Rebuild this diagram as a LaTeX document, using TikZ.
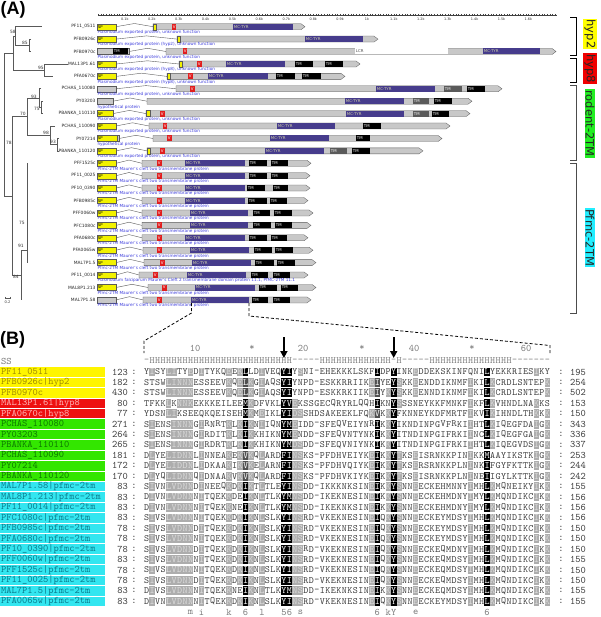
\documentclass[tikz,border=0pt]{standalone}
\usepackage{fontspec}
\setsansfont{DejaVu Sans}
\newfontfamily\panelfont{Liberation Sans}
\usetikzlibrary{arrows.meta,positioning}
\definecolor{bargrey}{HTML}{C8C8C8}
\definecolor{barline}{HTML}{5A5A5A}
\definecolor{spyellow}{HTML}{F2F200}
\definecolor{vred}{HTML}{E01E1E}
\definecolor{tyrpurple}{HTML}{463C8C}
\definecolor{tyrtext}{HTML}{D2D2A8}
\definecolor{tmdark}{HTML}{5A5A5A}
\definecolor{descblue}{HTML}{3C3CDC}
\definecolor{hypyellow}{HTML}{FFFF00}
\definecolor{hypred}{HTML}{F00000}
\definecolor{rodgreen}{HTML}{22EE22}
\definecolor{pfmccyan}{HTML}{22EEFF}
\definecolor{nyellow}{HTML}{FFF500}
\definecolor{nyellowtext}{HTML}{A08C00}
\definecolor{nred}{HTML}{EE1010}
\definecolor{nredtext}{HTML}{FFB8B8}
\definecolor{ngreen}{HTML}{33E600}
\definecolor{ngreentext}{HTML}{0C7800}
\definecolor{ncyan}{HTML}{33E6F0}
\definecolor{ncyantext}{HTML}{0A7A8C}
\definecolor{seqtext}{HTML}{3A3A3A}
\definecolor{resgrey}{HTML}{ADADAD}
\definecolor{resgreytext}{HTML}{DCDCDC}
\definecolor{resdark}{HTML}{505050}
\definecolor{sstext}{HTML}{7A7A7A}

\newcounter{domc}
% one protein of panel A: id, y, end of first piece, start of second piece, end, name, description
\newcommand\protrow[7]{%
  \filldraw[barbox] (97,#2-3) rectangle (#3,#2+3);
  \draw[barjoin] (#3,#2) -- ({(#3+#4)/2},#2-3.2) -- (#4,#2);
  \filldraw[barbox] (#4,#2-3) -- (#5,#2-3) -- (#5+4,#2) -- (#5,#2+3) -- (#4,#2+3) -- cycle;
  \node[leaf] (lf#1) at (96,#2) {#6};
  \node[desc] (ds#1) at (97,#2+5.7) {#7};}
% one domain: style, y, from, to, label
\newcommand\dom[5]{%
  \stepcounter{domc}%
  \filldraw[#1] (#3,#2-3) rectangle (#4,#2+3);
  \node[domtext, #1 label] (dom\arabic{domc}) at (#3+0.4,#2) {#5};}
% one row of panel B: id, y, box style, name, first number, residues, shading, last number
\newcommand\alnrow[8]{%
  \node[namebox, #3] (nm#1) at (0,#2) {#4};
  \node[numl] (st#1) at (128,#2) {#5};
  \node[colon] (cl#1) at (134,#2) {:};
  \def\alny{#2}\def\alncol{0}\def\alnid{#1}%
  \alnloop#6\relax#7\relax
  \node[colon] (cr#1) at (561,#2) {:};
  \node[numr] (en#1) at (570,#2) {#8};}
\def\alnloop#1#2\relax#3#4\relax{%
  \pgfmathtruncatemacro\alncol{\alncol+1}%
  \pgfmathsetmacro\alnx{146.7+(\alncol-1)*5.49}%
  \node[res, res#3] (c\alnid-\alncol) at (\alnx,\alny) {#1};%
  \ifx\relax#2\relax\else\alnloop#2\relax#4\relax\fi}

\begin{document}
\begin{tikzpicture}[x=1pt,y=-1pt,
  barbox/.style={fill=bargrey, draw=barline, line width=0.3pt},
  barjoin/.style={draw=barline, line width=0.4pt},
  leaf/.style={anchor=east, font=\fontsize{4.4}{4.4}\sffamily, text=black!85, inner sep=0.3pt},
  desc/.style={anchor=west, font=\fontsize{4.2}{4.2}\sffamily, text=descblue, inner sep=0.3pt},
  domtext/.style={anchor=west, font=\fontsize{3.9}{3.9}\sffamily, inner sep=0.3pt},
  spdom/.style={fill=spyellow, draw=barline, line width=0.3pt},
  spdom label/.style={text=black},
  vdom/.style={fill=vred, draw=none},
  vdom label/.style={text=white},
  tyrdom/.style={fill=tyrpurple, draw=none},
  tyrdom label/.style={text=tyrtext},
  tmdom/.style={fill=black, draw=none},
  tmdom label/.style={text=white},
  tmgdom/.style={fill=tmdark, draw=none},
  tmgdom label/.style={text=white},
  lcrdom/.style={fill=white, draw=none},
  lcrdom label/.style={text=black!70},
  rulerline/.style={draw=black!75, line width=0.4pt},
  rulerlab/.style={font=\fontsize{3.4}{3.4}\sffamily, text=black!80, inner sep=0pt},
  branch/.style={draw=black!65, line width=0.6pt},
  support/.style={font=\fontsize{4.4}{4.4}\sffamily, text=black!80, inner sep=0.3pt},
  group/.style={rotate=-90, font=\fontsize{11.5}{11.5}\sffamily, inner sep=1pt, text=black!85},
  bracket/.style={line width=0.8pt},
  panel/.style={font=\fontsize{18}{18}\panelfont\bfseries, inner sep=0pt},
  namebox/.style={anchor=west, minimum height=9.4pt, text width=103pt, inner xsep=1pt, inner ysep=0pt, font=\fontsize{10}{10}\ttfamily, align=left},
  yel/.style={fill=nyellow, text=nyellowtext},
  redb/.style={fill=nred, text=nredtext},
  grn/.style={fill=ngreen, text=ngreentext},
  cyn/.style={fill=ncyan, text=ncyantext},
  numl/.style={anchor=east, font=\fontsize{10}{10}\ttfamily, text=seqtext, inner sep=0pt},
  numr/.style={anchor=west, font=\fontsize{10}{10}\ttfamily, text=seqtext, inner sep=0pt},
  colon/.style={font=\fontsize{10}{10}\ttfamily, text=seqtext, inner sep=0pt},
  res/.style={minimum width=5.49pt, minimum height=8.8pt, inner sep=0pt, font=\fontsize{9.6}{9.6}\ttfamily},
  resw/.style={text=seqtext},
  resg/.style={fill=resgrey, text=resgreytext},
  resk/.style={fill=black, text=white},
  resd/.style={fill=resdark, text=white},
  ress/.style={text=sstext},
  marker/.style={font=\fontsize{10}{10}\ttfamily, text=sstext, inner sep=0pt},
  zoomline/.style={draw=black, line width=0.8pt, dash pattern=on 3pt off 2pt},
  pick/.style={draw=black, line width=2pt, -{Triangle[width=7pt,length=7pt]}}
]
\useasboundingbox (0,0) rectangle (600,617);

% ---------- panel A ----------
\node[panel, anchor=north west] (pA) at (0.5,1.5) {(A)};

% ruler
\draw[rulerline] (98,15) -- (557,15);
\foreach \k in {0,...,170}
  \draw[rulerline, line width=0.25pt] ({98+\k*2.69},13.9) -- ({98+\k*2.69},16.1);
\foreach \k/\t in {1/0.1k,2/0.2k,3/0.3k,4/0.4k,5/0.5k,6/0.6k,7/0.7k,8/0.8k,
                   9/0.9k,10/1k,11/1.1k,12/1.2k,13/1.3k,14/1.4k,15/1.5k,16/1.6k}
  \node[rulerlab] (rl\k) at ({98+\k*26.9},19.6) {\t};

% proteins
\protrow{1}{26.7}{116}{153}{301}{PF11\_0511}{Plasmodium exported protein, unknown function}
\dom{spdom}{26.7}{97}{116}{SP} \dom{spdom}{26.7}{153}{156}{}
\dom{vdom}{26.7}{172}{176}{V} \dom{tyrdom}{26.7}{233}{293}{MC-TYR}

\protrow{2}{39.1}{116}{177}{374}{PFB0926c}{Plasmodium exported protein (hyp2), unknown function}
\dom{spdom}{39.1}{97}{116}{SP} \dom{spdom}{39.1}{177}{180}{}
\dom{tyrdom}{39.1}{305}{363}{MC-TYR}

\protrow{3}{51.5}{129}{166}{552}{PFB0970c}{Plasmodium exported protein, unknown function}
\dom{tmdom}{51.5}{113}{128}{TM} \dom{vdom}{51.5}{183}{187}{V}
\dom{lcrdom}{51.5}{355}{448}{LCR} \dom{tyrdom}{51.5}{483}{540}{MC-TYR}

\protrow{4}{64}{116}{179}{356}{MAL13P1.61}{Plasmodium exported protein (hyp8), unknown function}
\dom{spdom}{64}{97}{116}{SP} \dom{spdom}{64}{179}{182}{}
\dom{vdom}{64}{197}{202}{V} \dom{tyrdom}{64}{226}{285}{MC-TYR}
\dom{tmdom}{64}{295}{313}{TM} \dom{tmdom}{64}{325}{343}{TM}

\protrow{5}{76.4}{116}{167}{341}{PFA0670c}{Plasmodium exported protein (hyp8), unknown function}
\dom{spdom}{76.4}{97}{116}{SP} \dom{spdom}{76.4}{167}{170}{}
\dom{vdom}{76.4}{188}{193}{V} \dom{tyrdom}{76.4}{208}{268}{MC-TYR}
\dom{tmdom}{76.4}{276}{295}{TM} \dom{tmdom}{76.4}{302}{321}{TM}

\protrow{6}{88.8}{116}{176}{498}{PCHAS\_110080}{Plasmodium exported protein, unknown function}
\dom{vdom}{88.8}{190}{195}{V} \dom{tyrdom}{88.8}{376}{435}{MC-TYR}
\dom{tmgdom}{88.8}{444}{462}{TM} \dom{tmdom}{88.8}{467}{485}{TM}

\protrow{7}{101.2}{113}{147}{468}{PY03203}{hypothetical protein}
\dom{tyrdom}{101.2}{345}{404}{MC-TYR}
\dom{tmgdom}{101.2}{413}{429}{TM} \dom{tmdom}{101.2}{434}{452}{TM}

\protrow{8}{113.6}{113}{146}{466}{PBANKA\_110110}{Plasmodium exported protein, unknown function}
\dom{spdom}{113.6}{97}{113}{SP} \dom{spdom}{113.6}{146}{150}{}
\dom{vdom}{113.6}{160}{165}{V} \dom{tyrdom}{113.6}{346}{404}{MC-TYR}
\dom{tmgdom}{113.6}{413}{429}{TM} \dom{tmdom}{113.6}{432}{449}{TM}

\protrow{9}{126}{116}{149}{446}{PCHAS\_110090}{Plasmodium exported protein, unknown function}
\dom{spdom}{126}{97}{116}{SP}
\dom{vdom}{126}{163}{167}{V} \dom{tyrdom}{126}{277}{335}{MC-TYR}
\dom{tmdom}{126}{363}{381}{TM}

\protrow{10}{138.5}{119}{153}{438}{PY07214}{hypothetical protein}
\dom{spdom}{138.5}{97}{117}{SP}
\dom{vdom}{138.5}{167}{172}{V} \dom{tyrdom}{138.5}{270}{329}{MC-TYR}
\dom{tmdom}{138.5}{356}{370}{TM}

\protrow{11}{150.9}{116}{147}{419}{PBANKA\_110120}{Plasmodium exported protein, unknown function}
\dom{spdom}{150.9}{97}{116}{SP} \dom{spdom}{150.9}{147}{150}{}
\dom{vdom}{150.9}{160}{165}{V} \dom{tyrdom}{150.9}{265}{324}{MC-TYR}
\dom{tmgdom}{150.9}{330}{347}{TM} \dom{tmdom}{150.9}{352}{370}{TM}

% Pfmc-2TM proteins: id/y/second piece/V/MC-TYR/TM/TM/end/name
\foreach \i/\y/\s/\v/\ma/\mb/\ta/\tb/\tc/\td/\e/\n in {
  12/163.3/142/157/185/245/249/267/271/288/307/PFF1525c,
  13/175.7/142/157/185/245/249/267/271/288/306/PF11\_0025,
  14/188.1/142/157/185/245/247/265/273/288/306/PF10\_0390,
  15/200.6/142/157/185/245/248/267/270/287/304/PFB0985c,
  16/213.0/142/157/190/248/253/270/274/292/309/PFF0060w,
  17/225.4/142/157/190/248/253/271/275/292/307/PFC1080c,
  18/237.8/142/157/185/245/249/267/271/287/304/PFA0680c,
  19/250.2/143/157/190/249/254/272/275/293/309/PFA0065w,
  20/262.6/144/160/192/251/255/274/277/295/312/MAL7P1.5,
  22/287.5/148/162/195/255/259/277/281/298/312/MAL8P1.213}{
  \protrow{\i}{\y}{116}{\s}{\e}{\n}{Pfmc-2TM Maurer's cleft two transmembrane protein}
  \dom{spdom}{\y}{97}{116}{SP}
  \dom{vdom}{\y}{\v}{\v+5}{V} \dom{tyrdom}{\y}{\ma}{\mb}{MC-TYR}
  \dom{tmdom}{\y}{\ta}{\tb}{TM} \dom{tmdom}{\y}{\tc}{\td}{TM}
}
\protrow{21}{275}{116}{139}{304}{PF11\_0014}{Plasmodium falciparum Maurer's Cleft 2 transmembrane domain protein 11.1, PfMC-2TM 11.1}
\dom{spdom}{275}{97}{116}{SP}
\dom{vdom}{275}{153}{158}{V} \dom{tyrdom}{275}{187}{246}{MC-TYR}
\dom{tmdom}{275}{251}{268}{TM} \dom{tmdom}{275}{273}{290}{TM}

\protrow{23}{299.9}{116}{143}{307}{MAL7P1.58}{Pfmc-2TM Maurer's cleft two transmembrane protein}
\dom{vdom}{299.9}{157}{162}{V} \dom{tyrdom}{299.9}{191}{249}{MC-TYR}
\dom{tmdom}{299.9}{252}{268}{TM} \dom{tmdom}{299.9}{273}{290}{TM}

% tree
\draw[branch] (15,26.7) -- (42,26.7);
\draw[branch] (15,26.7) -- (15,45.3) -- (29,45.3);
\draw[branch] (31,39.1) -- (29,39.1) -- (29,51.5) -- (31,51.5);
\draw[branch] (13,36) -- (15,36);
\draw[branch] (68,64) -- (44,64) -- (44,76.4) -- (53,76.4);
\draw[branch] (13,36) -- (13,70.2) -- (44,70.2);
\draw[branch] (4,53.1) -- (13,53.1);
\draw[branch] (41,88.8) -- (39,88.8) -- (39,107.4) -- (41,107.4);
\draw[branch] (43,101.2) -- (41,101.2) -- (41,113.6) -- (43,113.6);
\draw[branch] (27,98.1) -- (39,98.1);
\draw[branch] (55,126) -- (50,126) -- (50,144.7) -- (57,144.7);
\draw[branch] (59,138.5) -- (57,138.5) -- (57,150.9) -- (59,150.9);
\draw[branch] (27,135.4) -- (50,135.4);
\draw[branch] (27,98.1) -- (27,135.4);
\draw[branch] (12,116.7) -- (27,116.7);
\draw[branch] (12,116.7) -- (12,275) -- (21,275);
\draw[branch] (21,250) -- (21,300);
\draw[branch] (21,250) -- (27,250);
\draw[branch] (27,163.3) -- (27,262.6);
\draw[branch] (4,53.1) -- (4,196) -- (12,196);
\node[support] (s58) at (13,32) {58};
\node[support] (s85) at (25,43) {85};
\node[support] (s95) at (41,68) {95};
\node[support] (s93) at (34,96.5) {93};
\node[support] (s75a) at (37,109) {75};
\node[support] (s70) at (23,114) {70};
\node[support] (s98) at (46,133) {98};
\node[support] (s93b) at (53,142) {93};
\node[support] (s78) at (9,143) {78};
\node[support] (s75b) at (22,223) {75};
\node[support] (s91) at (21,246) {91};
\node[support] (s84) at (16,277) {84};
\draw[branch, line width=0.4pt] (5,298) -- (10,298);
\draw[branch, line width=0.4pt] (5,296.8) -- (5,299.2);
\draw[branch, line width=0.4pt] (10,296.8) -- (10,299.2);
\node[support, font=\fontsize{3.6}{3.6}\sffamily] (scale) at (7.5,302.5) {0.2};

% groups
\node[group, fill=hypyellow] (ghyp2) at (590,34) {hyp2};
\node[group, fill=hypred] (ghyp8) at (590,68.5) {hyp8};
\node[group, fill=rodgreen] (grod) at (590,123.5) {rodent-2TM};
\node[group, fill=pfmccyan] (gpfmc) at (590,237.5) {Pfmc-2TM};
\draw[bracket] (570,17) -- (576,17) -- (576,55) -- (570,55);
\draw[bracket] (570,58) -- (576,58) -- (576,82) -- (570,82);
\draw[bracket, black!70] (570,85) -- (576,85) -- (576,160) -- (570,160);
\draw[bracket, black!70] (570,163) -- (576,163) -- (576,313) -- (570,313);

% ---------- panel B ----------
\node[panel, anchor=south west] (pB) at (0,348) {(B)};
\coordinate (mcl) at (191.5,303);
\coordinate (mcr) at (249,303);
\coordinate (alnl) at (144,353);
\coordinate (alnr) at (550,353);
\draw[zoomline] (mcl) -- (191.5,313) -- (144,341) -- (alnl);
\draw[zoomline] (mcr) -- (249,316) -- (550,345.5) -- (alnr);

\foreach \x/\t [count=\j] in {195/10,252/*,303/20,362/*,414/40,472/*,526/60}
  \node[marker] (tick\j) at (\x,348) {\t};
\coordinate (pa1) at (283.9,337);
\coordinate (pb1) at (283.9,358);
\coordinate (pa2) at (393.7,337);
\coordinate (pb2) at (393.7,358);
\draw[pick] (pa1) -- (pb1);
\draw[pick] (pa2) -- (pb2);

\node[namebox, text=sstext] (ssname) at (0,361) {SS};
\def\alny{361}\def\alncol{0}\def\alnid{ss}%
\alnloop-HHHHHHHHHHHHHHHHHHHHHHHHHH-----HHHHHHHHHHHHH-H-----HHHHHHHHHHHHHHH-------\relax ssssssssssssssssssssssssssssssssssssssssssssssssssssssssssssssssssssssssss\relax

\alnrow{1}{372}{yel}{PF11\_0511}{123}{YISYLITYEDITYKQEEKLLDIVEQYIYSNI-EHEKKKLSKFIDPYINKEDDEKSKINFQNILYEKKRIESIKY}{wgwwggwwgwgwwwwgwgkwwgwwwkkwgwwwwwwwwwwwwwkwwkwwwgwwwwwwwwwwwwkwwwwwwwwgww}{195}
\alnrow{2}{382.4}{yel}{PFB0926c|hyp2}{182}{STSWLINNNESSEEVKQELKGIAQSYIYNPD-ESKKRRIIKEIYEYSKKEENDDIKNMFIKILKCRDLSNTEPK}{wwwwgggggwwwwwwgwgdgwgwwwkkwwwwwwwwwwwwwwgdwwkgwwgwwwwwwwwwgwwkgwwwwwwwwwg}{254}
\alnrow{3}{392.8}{yel}{PFB0970c}{430}{STSWLINNNESSEEVKQELKGIAQSYIYNPD-ESKKRKIIKEIYKYSKKEENNDIKNMFIKILKCRDLSNTEPK}{wwwwgggggwwwwwwgwgdgwgwwwkkwwwwwwwwwwwwwwgdwgkgwwgwwwwwwwwwgwwkgwwwwwwwwwg}{502}
\alnrow{4}{403.3}{redb}{MAL13P1.61|hyp8}{80}{TFKKLKNNKEKKKEILEEMKDFVKLYVEKSSGECQRYRLQQHIKNYSSSNEYKKFMNKFIKFLKVHNDLNAKKS}{wwwwgwgggwwwwwwwwwkgwwwwwkkgwwwwwwwwwwwwwwkwwkgwwwwwwwwwwwwgwwkgwwwwwwwgww}{153}
\alnrow{5}{413.7}{redb}{PFA0670c|hyp8}{77}{YDSNLIKSEEQKQEISEHMKMEIKLYIDSSHDSAKEEKLFQKVKKYFKNNEYKDFMRTFIKVIKIHNDLTHKKK}{wwwwggwwwwwwwwwwwwkgwgwwwkkggwwwwwwwwwwwwgdwgkwwwwwwwwwwwwwgwwkgwwwwwwwgwg}{150}
\alnrow{6}{424.1}{grn}{PCHAS\_110080}{271}{SIENSINNNGIRNRTKLKIKNIIQNYMEIDD-SFEQVEIYNRIKKYIKNDINPGVFRKIIHTLKIQEGFDAIGK}{wgwwwggggwgwwwwgwgkgwgwwwkkgwwwwwwwwwwwwwwkwgkwwwwwwwwwwwwwgwwkgwwwwwwwgwg}{343}
\alnrow{7}{434.5}{grn}{PY03203}{264}{SIENSINNNGIRDITKLKIKKHIKNYMENDD-SFEQVNTYNKIKKYITNDINPGIFRKIINCLKIQEGFGAIGK}{wgwwwggggwgwwwwgwgkgwwwwwkkgwwwwwwwwwwwwwwkwgkwwwwwwwwwwwwwgwwkgwwwwwwwgwg}{336}
\alnrow{8}{444.9}{grn}{PBANKA\_110110}{265}{SIENSINNNGIRDRTKLKIKKHIKNYMDSDD-SFEQVNIYNKIKKYITNDINPGIFRKIIHTLKIQEGVDSIGK}{wgwwwggggwgwwwwgwgkgwwwwwkkggwwwwwwwwwwwwwkwgkwwwwwwwwwwwwwgwwkgwwwwwwwgwg}{337}
\alnrow{9}{455.4}{grn}{PCHAS\_110090}{181}{DLYELIDNNLINNEAKEKVKQLARDFINSKS-PFDHVEIYKEIKKYTKSEISRNKKPINIKKMAAYIKSTKIGK}{wgwwgggggwgwwwwgwgdgwgwwwkkggwwwwwwwwwwwwgkwgkgwwgwwwwwwwwwgwwkwwwwwwwwgwg}{253}
\alnrow{10}{465.8}{grn}{PY07214}{172}{DLYELIDDNLIDKAAKIKVKELARNFINSKS-PFDHVQIYKEIKKYTKSERSRNKKPLNINKIFGYFKTTKIGK}{wgwwgggggwgwwwwgwgdgwgwwwkkggwwwwwwwwwwwwgkwgkgwwgwwwwwwwwwgwwkwwwwwwwwgwg}{244}
\alnrow{11}{476.2}{grn}{PBANKA\_110120}{170}{DLYQLIDNNQIDNAAKVKVKQLARDFINSKS-PFDHVKIYKEIKKYTKSEISRNKKPLNINEIIGYLKTTKIGK}{wgwwgggggwgwwwwgwgdgwgwwwkkggwwwwwwwwwwwwgkwgkgwwgwwwwwwwwwgwwkwwwwwwwwgwg}{242}
\alnrow{12}{486.6}{cyn}{MAL7P1.58|pfmc-2tm}{83}{SIVNLVDNNDINEEQKDKIKTLTLEYINSDD-IKKKNKSINEIKKYSNNEECKEHMNNYIMHLKMQNEIKYIKK}{wgwwgggggwgwwwwgwgkgwgwwwkkggwwwwwwwwwwwwgkwgkgwwgwwwwwwwwwgwwkgwwwwwwwgwg}{155}
\alnrow{13}{497}{cyn}{MAL8P1.213|pfmc-2tm}{83}{DIVNLVDNNNITQEKKDEIKNLTLKYMNSDD-IKEKNESINEIKKYSNNEECKEHMDNYIMYLKMQNDIKCIKK}{wgwwgggggwgwwwwgwwkgwgwwwkkggwwwwwwwwwwwwgkwgkgwwgwwwwwwwwwgwwkgwwwwwwwgwg}{156}
\alnrow{14}{507.4}{cyn}{PF11\_0014|pfmc-2tm}{83}{DIVNLVDNNNITQEKKNEIKNLTLKYMNSDD-IKEKNKSINEIKKYSNNEECKEHMDNYIMYLKMQNDIKCIKK}{wgwwgggggwgwwwwgwwkgwgwwwkkggwwwwwwwwwwwwgkwgkgwwgwwwwwwwwwgwwkgwwwwwwwgwg}{156}
\alnrow{15}{517.9}{cyn}{PFC1080c|pfmc-2tm}{83}{SIVSLVDNNNITQEKKDKIKNLSLKYINSRD-VKEKNESINEIQKYSNNEECKEYMDSYIMHLKMQNDIKCIKK}{wgwwgggggwgwwwwgwgkgwgwwwkkggwwwwwwwwwwwwgkwgkgwwgwwwwwwwwwgwwkgwwwwwwwgwg}{156}
\alnrow{16}{528.3}{cyn}{PFB0985c|pfmc-2tm}{78}{SIVSLVDNNDITQEKKDKIKNLSLKYINSRD-VKEKNESINEIQKYSNNEECKEYMDSYIMHLKMQNDIKCIKK}{wgwwgggggwgwwwwgwgkgwgwwwkkggwwwwwwwwwwwwgkwgkgwwgwwwwwwwwwgwwkgwwwwwwwgwg}{150}
\alnrow{17}{538.7}{cyn}{PFA0680c|pfmc-2tm}{78}{SIVSLVDNNNITQEKKDKIKNLSLKYINSRD-VKEKNESINEIQKYSNNEECKEYMDSYIMHLKMQNDIKCIKK}{wgwwgggggwgwwwwgwgkgwgwwwkkggwwwwwwwwwwwwgkwgkgwwgwwwwwwwwwgwwkgwwwwwwwgwg}{150}
\alnrow{18}{549.1}{cyn}{PF10\_0390|pfmc-2tm}{78}{SIVSLVDNNDITQEKKDKIKNLSLKYINSRD-VKEKNESINEIQKYSNNEECKEQMDNYIMHLKMQNDIKCIKK}{wgwwgggggwgwwwwgwgkgwgwwwkkggwwwwwwwwwwwwgkwgkgwwgwwwwwwwwwgwwkgwwwwwwwgwg}{150}
\alnrow{19}{559.5}{cyn}{PFF0060w|pfmc-2tm}{83}{SIVSLVDNNNITQEKKDKIKNLSLKYINSRD-VKEKNESINEIQKYSNNEECKEQMDSYIMHLKMQNDIKCIKK}{wgwwgggggwgwwwwgwgkgwgwwwkkggwwwwwwwwwwwwgkwgkgwwgwwwwwwwwwgwwkgwwwwwwwgwg}{155}
\alnrow{20}{570}{cyn}{PFF1525c|pfmc-2tm}{78}{SIVSLVDNNNITQEKKDKIKNLSLKYINSRD-VKEKNESINEIQKYSNNEECKEQMDSYIMHLKMQNDIKCIKK}{wgwwgggggwgwwwwgwgkgwgwwwkkggwwwwwwwwwwwwgkwgkgwwgwwwwwwwwwgwwkgwwwwwwwgwg}{150}
\alnrow{21}{580.4}{cyn}{PF11\_0025|pfmc-2tm}{78}{SIVSLVDNNDITQEKKDKIKNLSLKYINSRD-VKEKNESINEIQKYSNNEECKEQMDSYIMHLKMQNDIKCIKK}{wgwwgggggwgwwwwgwgkgwgwwwkkggwwwwwwwwwwwwgkwgkgwwgwwwwwwwwwgwwkgwwwwwwwgwg}{150}
\alnrow{22}{590.8}{cyn}{MAL7P1.5|pfmc-2tm}{83}{DIVSLVDNNNITQEKKNEIKNLTLKYMNSDD-IKEKNKSINEIKKYSNNEECKEQMDSYIMHLKMQNDIKCIKK}{wgwwgggggwgwwwwgwwkgwgwwwkkggwwwwwwwwwwwwgkwgkgwwgwwwwwwwwwgwwkgwwwwwwwgwg}{155}
\alnrow{23}{601.2}{cyn}{PFA0065w|pfmc-2tm}{83}{DIVNLVDNNNITQEKKDKIKNLSLKYINSRD-VKEKNESINEIQKYSNNEECKEYMDSYIMHLKMQNDIKCIKK}{wgwwgggggwgwwwwgwgkgwgwwwkkggwwwwwwwwwwwwgkwgkgwwgwwwwwwwwwgwwkgwwwwwwwgwg}{155}

% consensus
\foreach \c/\t in {9/m,11/i,16/k,19/6,22/l,26/5,27/6,29/s,43/6,45/k,46/Y,50/e,63/6}
  \node[marker] (cons\c) at ({146.7+(\c-1)*5.49},612.5) {\t};
\end{tikzpicture}
\end{document}
